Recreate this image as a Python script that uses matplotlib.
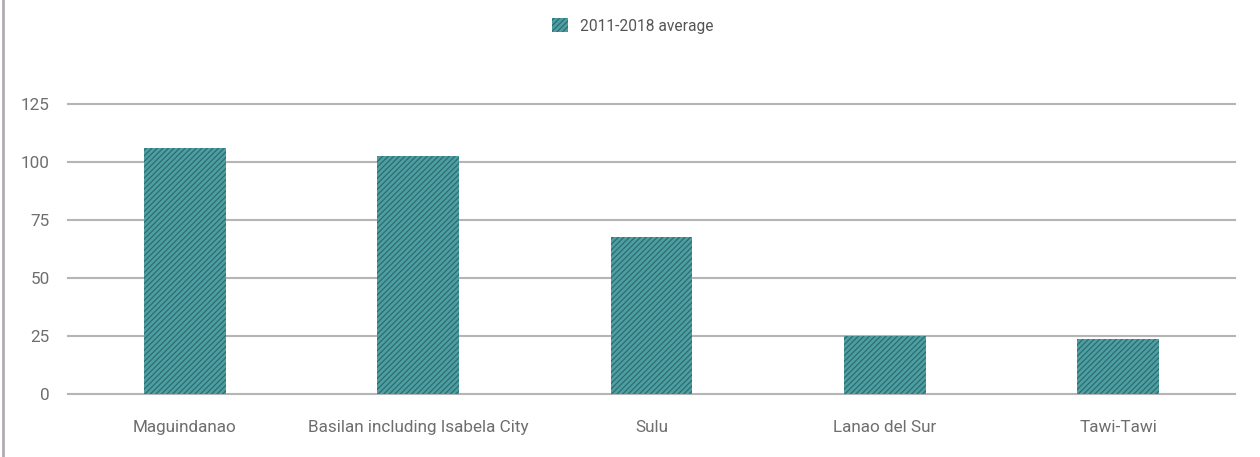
import matplotlib.pyplot as plt
from matplotlib.patches import Patch
from matplotlib.lines import Line2D

plt.rcParams['font.family'] = ['Roboto', 'DejaVu Sans']
plt.rcParams['hatch.linewidth'] = 0.9

provinces = ['Maguindanao', 'Basilan including Isabela City', 'Sulu',
             'Lanao del Sur', 'Tawi-Tawi']
avg_2011_2018 = [106.0, 102.6, 67.7, 25.0, 23.7]
y_ticks = [0, 25, 50, 75, 100, 125]

bar_color = '#4c9fa2'
hatch_color = '#2f6b6f'
grid_color = '#b5b5b5'
text_color = '#6e6e6e'

fig = plt.figure(figsize=(12.6, 4.57), dpi=100)
ax = fig.add_axes([68 / 1260, 63 / 457, (1235 - 68) / 1260, (394 - 104) / 457])

x = list(range(len(provinces)))
ax.bar(x, avg_2011_2018, width=0.35, color=bar_color, hatch='//////',
       edgecolor=hatch_color, linewidth=0, zorder=3)

ax.set_xlim(-0.5, len(provinces) - 0.5)
ax.set_ylim(0, 125)
ax.set_yticks(y_ticks)
ax.set_xticks(x)
ax.set_xticklabels(provinces)

ax.grid(axis='y', color=grid_color, linewidth=1.5, zorder=0)
ax.grid(axis='x', visible=False)
for s in ax.spines.values():
    s.set_visible(False)
ax.tick_params(axis='both', length=0, labelsize=12.3, labelcolor=text_color)
ax.tick_params(axis='x', pad=19)
ax.tick_params(axis='y', pad=13)
for gl in ax.get_ygridlines():
    gl.set_clip_on(False)

# legend at top
handle = Patch(facecolor=bar_color, hatch='//////', edgecolor=hatch_color, linewidth=0)
leg = fig.legend([handle], ['2011-2018 average'], loc='center',
                 bbox_to_anchor=(633 / 1260, 1 - 26 / 457), frameon=False,
                 fontsize=11.2, labelcolor='#555555', handlelength=1.0,
                 handleheight=1.0, handletextpad=0.8)

# thin border on the left edge
fig.add_artist(Line2D([3 / 1260, 3 / 1260], [0, 1], color='#b0aab5',
                      linewidth=2, transform=fig.transFigure))

fig.savefig('out.png', dpi=100)
